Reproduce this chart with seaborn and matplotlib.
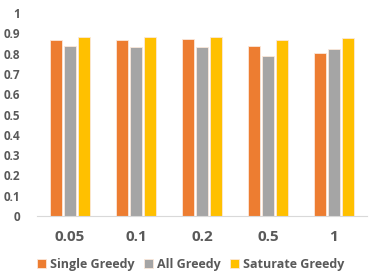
import pandas as pd
import matplotlib
matplotlib.use('Agg')
import matplotlib.pyplot as plt
import seaborn as sns

# data
categories = ["0.05", "0.1", "0.2", "0.5", "1"]
single_greedy = [0.867, 0.867, 0.870, 0.836, 0.803]
all_greedy = [0.837, 0.833, 0.833, 0.787, 0.821]
saturate_greedy = [0.883, 0.883, 0.883, 0.867, 0.878]
series_names = ["Single Greedy", "All Greedy", "Saturate Greedy"]
colors = ["#ED7D31", "#A5A5A5", "#FFC000"]

df = pd.DataFrame({
    "x": categories * 3,
    "value": single_greedy + all_greedy + saturate_greedy,
    "series": [s for s in series_names for _ in categories],
})

sns.set_style("white")
plt.rcParams['font.family'] = ['Open Sans', 'DejaVu Sans']
text_color = "#595959"

fig = plt.figure(figsize=(3.74, 2.79), dpi=100)
ax = fig.add_axes([37 / 374, 1 - 216 / 279, 330 / 374, (216 - 13) / 279])

sns.barplot(data=df, x="x", y="value", hue="series", palette=colors,
            saturation=1, width=0.64, gap=0.12, ax=ax,
            edgecolor="#FBE8DA", linewidth=0.6, legend=True)

ax.set_ylim(0, 1)
ax.set_yticks([i / 10 for i in range(11)])
ax.set_yticklabels(["0"] + [f"{i / 10:.1f}" for i in range(1, 10)] + ["1"])
ax.set_xlabel("")
ax.set_ylabel("")
for s in ["top", "right", "left"]:
    ax.spines[s].set_visible(False)
ax.spines["bottom"].set_color("#D9D9D9")
ax.tick_params(axis="y", length=0, labelsize=8.5, labelcolor=text_color, pad=12)
ax.tick_params(axis="x", length=0, labelsize=11, labelcolor=text_color, pad=10)
for lab in ax.get_xticklabels() + ax.get_yticklabels():
    lab.set_fontweight("bold")

handles, labels = ax.get_legend_handles_labels()
ax.get_legend().remove()
leg = fig.legend(handles, labels, loc="lower center", bbox_to_anchor=(0.51, -0.01),
                 ncol=3, frameon=False, handlelength=0.7, handleheight=0.7,
                 handletextpad=0.3, columnspacing=0.8,
                 prop={"size": 9, "weight": "bold"})
for t in leg.get_texts():
    t.set_color(text_color)

fig.savefig("out.png", dpi=100)
